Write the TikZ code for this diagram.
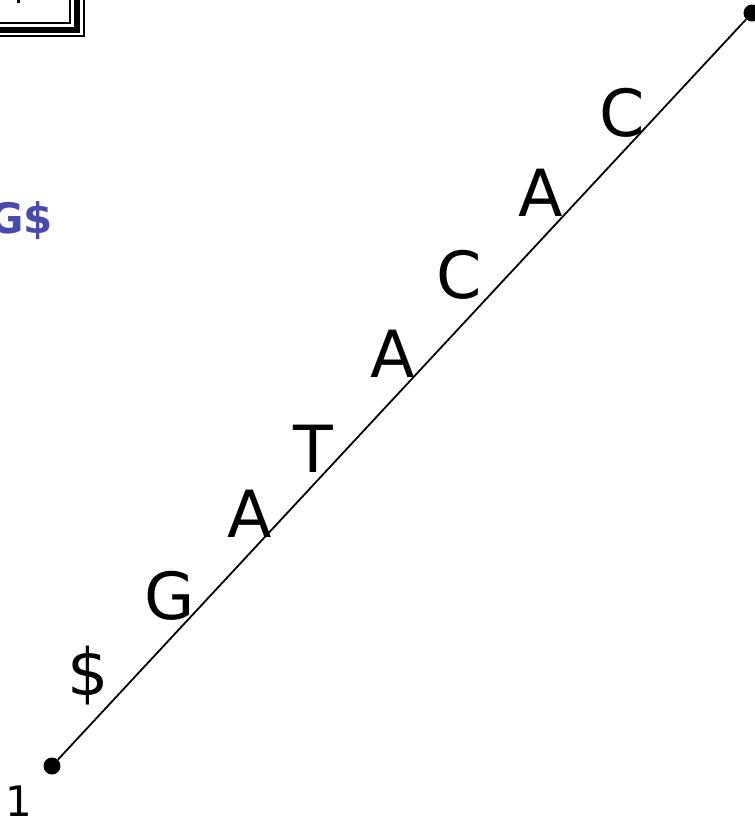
\documentclass[tikz,border=0pt]{standalone}
\usepackage{fontspec}
\setmainfont{DejaVu Sans}
\definecolor{slidepurple}{HTML}{4A4AAE}
\begin{document}
\begin{tikzpicture}[x=1pt,y=-1pt,
  letter/.style={font=\fontsize{65}{65}\selectfont, inner sep=0pt},
  dot/.style={circle, fill=black, minimum size=17pt, inner sep=0pt},
  edge/.style={line width=1.8pt}]
\useasboundingbox (0,0) rectangle (755,822);
\begin{scope}
\clip (0,0) rectangle (755,822);
% triple frame at top-left
\draw[line width=2.5pt] (-20,-20) rectangle (70,23);
\draw[line width=6.5pt] (-20,-20) rectangle (77,30);
\draw[line width=2.5pt] (-20,-20) rectangle (84,36);
\fill (17,0) rectangle (19.5,3);
% tree edge
\node[dot] (root) at (752,13) {};
\node[dot] (leaf) at (52,766) {};
\draw[edge] (leaf) -- (root);
\end{scope}
\node[font=\fontsize{42}{42}\selectfont\bfseries, text=slidepurple, anchor=east, inner sep=0pt] (str) at (53,221) {G\$};
\node[letter] (c1) at (622,113) {C};
\node[letter] (a1) at (541,193) {A};
\node[letter] (c2) at (459,275) {C};
\node[letter] (a2) at (393,354) {A};
\node[letter] (t1) at (313,449) {T};
\node[letter] (a3) at (250,514) {A};
\node[letter] (g1) at (170,596) {G};
\node[letter] (d1) at (88,676) {\$};
\node[font=\fontsize{42}{42}\selectfont, inner sep=0pt, anchor=base] (one) at (19,816) {1};
\end{tikzpicture}
\end{document}
